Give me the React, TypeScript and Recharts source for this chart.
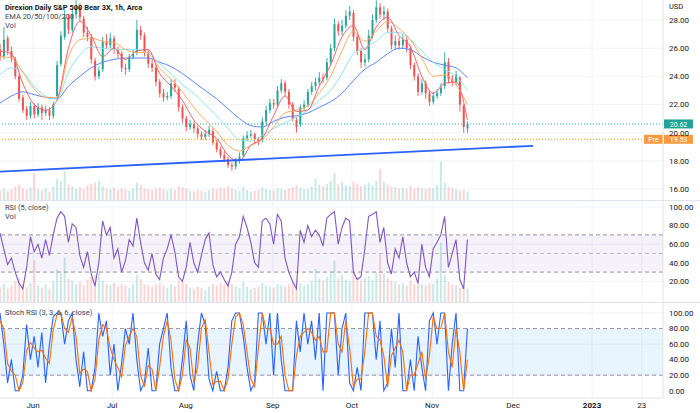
import React from "react";
import {
  Bar,
  CartesianGrid,
  ComposedChart,
  Line,
  ReferenceArea,
  ReferenceLine,
  XAxis,
  YAxis,
} from "recharts";

// one bar per trading day, x measured in trading days
const opens = [
  25.9, 25.4, 26.7, 25.8, 25.2, 24.0, 22.5, 21.7, 21.2, 21.9,
  21.3, 21.8, 21.4, 21.6, 21.2, 22.6, 24.9, 26.8, 28.2, 27.3,
  28.4, 28.9, 28.1, 27.1, 26.8, 25.1, 24.0, 24.5, 26.5, 26.2,
  26.7, 25.9, 25.6, 24.6, 24.5, 25.4, 25.7, 27.3, 26.9, 25.7,
  24.9, 24.6, 23.6, 22.8, 22.5, 22.6, 23.5, 23.1, 21.8, 21.0,
  20.4, 20.6, 20.3, 19.9, 19.7, 19.9, 20.1, 19.3, 18.8, 18.4,
  18.1, 17.7, 17.6, 18.0, 18.4, 19.6, 19.8, 19.9, 19.5, 19.5,
  20.8, 21.6, 22.1, 22.0, 23.0, 23.5, 22.9, 22.0, 20.9, 20.6,
  21.8, 22.0, 22.9, 23.3, 23.6, 23.9, 23.9, 25.0, 26.0, 27.7,
  27.2, 27.6, 28.3, 28.5, 26.8, 25.8, 25.0, 25.2, 26.9, 28.0,
  28.9, 28.4, 28.6, 27.4, 26.2, 26.5, 26.2, 26.6, 26.0, 24.8,
  24.0, 22.9, 23.5, 22.8, 22.2, 22.6, 22.8, 23.3, 25.0, 23.8,
  23.6, 23.9, 21.9, 20.3,
];
const highs = [
  26.3, 27.5, 26.9, 26.1, 25.4, 24.2, 22.7, 21.9, 22.2, 22.1,
  22.1, 22.0, 21.9, 21.8, 22.2, 25.1, 27.2, 28.7, 28.4, 28.8,
  29.4, 29.2, 28.3, 27.5, 27.0, 25.3, 24.7, 26.8, 27.0, 27.1,
  26.9, 26.1, 25.8, 24.9, 25.6, 25.9, 28.0, 27.6, 27.1, 25.9,
  25.2, 24.8, 23.8, 23.1, 22.9, 23.8, 23.8, 23.3, 22.0, 21.2,
  20.9, 20.8, 20.5, 20.1, 20.2, 20.5, 20.3, 19.5, 19.0, 18.7,
  18.3, 17.9, 18.2, 18.6, 19.8, 20.1, 20.2, 20.0, 19.7, 21.1,
  21.9, 22.4, 22.4, 23.3, 23.8, 23.7, 23.1, 22.2, 21.1, 22.0,
  22.3, 23.1, 23.6, 23.9, 24.3, 24.2, 25.3, 26.3, 28.1, 27.9,
  28.0, 28.7, 29.0, 28.7, 27.0, 26.0, 25.6, 27.3, 28.4, 29.4,
  29.2, 29.0, 28.8, 27.6, 26.9, 26.8, 27.0, 26.9, 26.2, 25.0,
  24.2, 23.8, 23.7, 23.0, 22.9, 23.1, 23.5, 25.7, 25.3, 24.1,
  24.4, 24.0, 22.0, 20.8,
];
const lows = [
  25.1, 25.2, 25.5, 25.0, 23.8, 22.2, 21.4, 20.9, 21.0, 21.0,
  21.1, 20.9, 21.2, 20.9, 21.0, 22.4, 24.7, 26.6, 27.0, 27.1,
  28.1, 27.9, 26.8, 26.5, 24.9, 23.7, 23.8, 24.3, 25.9, 26.0,
  25.6, 25.3, 24.3, 24.1, 24.3, 25.2, 25.5, 26.6, 25.4, 24.6,
  24.3, 23.3, 22.5, 22.2, 22.3, 22.4, 22.9, 21.5, 20.7, 20.1,
  20.2, 20.0, 19.6, 19.5, 19.5, 19.7, 19.1, 18.6, 18.2, 17.9,
  17.5, 17.3, 17.4, 17.8, 18.2, 19.4, 19.6, 19.2, 19.1, 19.3,
  20.6, 21.4, 21.7, 21.8, 22.8, 22.6, 21.7, 20.8, 20.0, 20.4,
  21.6, 21.8, 22.7, 23.0, 23.4, 23.5, 23.7, 24.8, 25.8, 26.9,
  26.9, 27.4, 28.0, 26.5, 25.5, 24.6, 24.7, 25.0, 26.7, 27.8,
  28.1, 28.0, 27.1, 25.9, 25.9, 25.9, 26.0, 25.7, 24.5, 23.7,
  22.6, 22.7, 22.4, 21.9, 22.0, 22.4, 22.6, 23.1, 23.5, 23.3,
  23.4, 21.5, 20.0, 20.0,
];
const closes = [
  25.4, 26.6, 25.8, 25.3, 24.0, 22.4, 21.6, 21.2, 21.9, 21.3,
  21.8, 21.4, 21.6, 21.2, 22.0, 24.8, 26.9, 28.2, 27.3, 28.4,
  28.9, 28.2, 27.1, 26.8, 25.2, 24.0, 24.4, 26.5, 26.2, 26.7,
  25.9, 25.6, 24.6, 24.5, 25.4, 25.6, 27.3, 26.9, 25.7, 24.9,
  24.6, 23.6, 22.8, 22.5, 22.6, 23.5, 23.2, 21.8, 21.0, 20.4,
  20.6, 20.3, 19.9, 19.7, 19.9, 20.2, 19.3, 18.8, 18.4, 18.1,
  17.7, 17.6, 18.0, 18.3, 19.6, 19.8, 19.9, 19.5, 19.4, 20.8,
  21.6, 22.1, 22.0, 23.0, 23.5, 22.9, 22.0, 21.0, 20.4, 21.8,
  22.0, 22.9, 23.3, 23.6, 23.9, 23.8, 25.0, 26.0, 27.7, 27.2,
  27.6, 28.3, 28.6, 26.8, 25.8, 25.0, 25.2, 26.9, 28.0, 28.9,
  28.4, 28.6, 27.4, 26.2, 26.5, 26.2, 26.6, 26.0, 24.8, 24.0,
  22.9, 23.5, 22.8, 22.2, 22.6, 22.8, 23.2, 25.0, 23.8, 23.6,
  24.1, 22.0, 20.4, 20.62,
];
const volume = [
  25, 30, 22, 28, 35, 40, 30, 26, 32, 70,
  28, 24, 30, 22, 35, 55, 48, 75, 40, 36,
  30, 34, 28, 38, 42, 45, 50, 36, 30, 28,
  32, 26, 30, 28, 24, 30, 45, 38, 30, 28,
  26, 30, 32, 28, 24, 30, 26, 36, 34, 30,
  24, 22, 26, 24, 20, 26, 30, 28, 32, 30,
  36, 30, 26, 24, 34, 26, 22, 24, 26, 32,
  28, 26, 24, 30, 28, 26, 30, 34, 38, 32,
  28, 30, 36, 55, 40, 36, 42, 50, 70, 40,
  46, 38, 36, 48, 42, 36, 40, 44, 38, 50,
  80, 48, 40, 36, 34, 30, 32, 28, 36, 30,
  34, 30, 28, 32, 30, 40, 100, 45, 34, 30,
  28, 24, 26, 22,
];
const rsi = [
  72, 55, 38, 45, 30, 18, 12, 35, 68, 52,
  60, 45, 65, 48, 70, 88, 95, 90, 62, 82,
  78, 48, 35, 52, 28, 15, 40, 85, 70, 78,
  45, 55, 30, 42, 65, 58, 88, 62, 40, 32,
  50, 28, 22, 45, 55, 70, 52, 25, 20, 35,
  62, 40, 30, 48, 65, 72, 38, 25, 30, 22,
  15, 30, 60, 68, 90, 78, 62, 40, 35, 85,
  88, 82, 60, 92, 85, 45, 30, 20, 12, 75,
  62, 80, 68, 75, 70, 58, 88, 92, 95, 60,
  78, 88, 85, 30, 22, 25, 55, 90, 92, 95,
  62, 78, 40, 28, 55, 45, 68, 40, 25, 30,
  18, 60, 35, 25, 55, 62, 70, 90, 35, 50,
  65, 22, 12, 65,
];
const stochK = [
  100, 60, 10, 40, 0, 0, 20, 85, 40, 70,
  30, 75, 10, 60, 95, 100, 100, 60, 90, 100,
  40, 5, 50, 0, 0, 30, 100, 70, 90, 20,
  60, 0, 35, 80, 60, 100, 40, 0, 10, 55,
  0, 0, 60, 80, 100, 30, 0, 0, 40, 90,
  20, 0, 60, 100, 85, 15, 0, 25, 0, 0,
  30, 90, 100, 100, 70, 30, 0, 10, 100, 100,
  60, 100, 20, 100, 40, 0, 0, 0, 90, 50,
  100, 60, 90, 40, 100, 0, 100, 100, 100, 20,
  80, 100, 10, 0, 30, 0, 100, 100, 100, 40,
  90, 0, 10, 80, 30, 100, 0, 0, 40, 0,
  70, 30, 0, 90, 100, 60, 100, 100, 0, 60,
  100, 0, 0, 80,
];
const stochD = [
  90, 80, 35, 25, 20, 0, 10, 52, 62, 55,
  50, 52, 42, 35, 78, 98, 100, 80, 75, 95,
  70, 22, 28, 25, 0, 15, 65, 85, 80, 55,
  40, 30, 18, 58, 70, 80, 70, 20, 5, 32,
  28, 0, 30, 70, 90, 65, 15, 0, 20, 65,
  55, 10, 30, 80, 92, 50, 8, 12, 12, 0,
  15, 60, 95, 100, 85, 50, 15, 5, 55, 100,
  80, 80, 60, 60, 70, 20, 0, 0, 45, 70,
  75, 80, 75, 65, 70, 50, 50, 100, 100, 60,
  50, 90, 55, 5, 15, 15, 50, 100, 100, 70,
  65, 45, 5, 45, 55, 65, 50, 0, 20, 20,
  35, 50, 15, 45, 95, 80, 80, 100, 50, 30,
  80, 50, 0, 40,
];

// EMAs read every 3rd day
const emaDays = Array.from({ length: 42 }, (_, i) => i * 3);
const ema20 = [
  25.8, 25.6, 23.5, 22.0, 21.6, 22.3, 26.0, 27.9, 26.9, 25.4,
  26.0, 25.2, 25.8, 25.9, 24.2, 23.3, 22.3, 20.9, 20.1, 19.6,
  18.4, 18.0, 19.1, 19.6, 21.2, 22.6, 21.5, 21.6, 23.3, 24.8,
  26.8, 27.6, 25.9, 27.5, 28.2, 26.9, 26.1, 24.0, 22.8, 23.5,
  23.6, 20.9,
];
const ema50 = [
  25.4, 25.3, 24.3, 23.1, 22.5, 22.5, 25.4, 26.6, 26.7, 26.5,
  26.4, 25.9, 25.7, 25.7, 24.6, 23.8, 22.9, 21.8, 20.9, 20.1,
  19.1, 18.7, 19.1, 19.5, 20.4, 21.4, 21.6, 21.9, 22.8, 24.0,
  25.8, 27.2, 26.5, 27.2, 27.9, 27.4, 26.6, 25.3, 24.0, 24.1,
  23.4, 22.0,
];
const ema100 = [
  24.1, 24.6, 24.3, 23.3, 22.6, 22.4, 24.3, 25.5, 26.1, 26.0,
  25.9, 25.9, 25.9, 25.6, 24.9, 24.2, 23.4, 22.8, 22.0, 21.2,
  20.3, 19.5, 19.4, 19.8, 20.3, 20.7, 21.1, 21.6, 22.3, 23.0,
  24.2, 25.6, 26.0, 26.5, 27.1, 27.1, 26.6, 25.8, 25.0, 24.5,
  24.0, 23.0,
];
const ema200 = [
  22.1, 22.6, 22.9, 22.7, 22.5, 22.4, 23.3, 24.0, 24.6, 25.0,
  25.2, 25.3, 25.3, 25.3, 25.0, 24.7, 24.2, 23.6, 23.0, 22.4,
  21.7, 21.0, 20.5, 20.4, 20.8, 21.1, 21.2, 21.4, 21.8, 22.2,
  22.8, 23.7, 24.5, 25.0, 25.6, 26.0, 25.9, 25.4, 25.0, 24.8,
  24.6, 23.9,
];

const trendLine = [
  { d: 0, p: 17.23 },
  { d: 140.3, p: 19.07 },
];
const lastPrice = 20.62;
const prePrice = 19.53;

const timeTicks = [8.7, 29.5, 48.9, 71.8, 92.6, 113.7, 135, 155.8, 168.9];
const timeLabels = ["Jun", "Jul", "Aug", "Sep", "Oct", "Nov", "Dec", "2023", "23"];
const priceTicks = [16, 18, 20, 22, 24, 26, 28];
const oscTicks = [0, 20, 40, 60, 80, 100];

const X_DOMAIN: [number, number] = [0, 174.47];
const UP = "#26a69a";
const DOWN = "#ef5350";
const GRID = "#f0f3fa";
const BORDER = "#e0e3eb";
const TEXT = "#131722";
const FONT = "Roboto, sans-serif";

const rows = opens.map((o, i) => ({
  d: i,
  o,
  h: highs[i],
  l: lows[i],
  c: closes[i],
  vol: volume[i],
  rsi: rsi[i],
  k: stochK[i],
  sd: stochD[i],
}));
const emaRows = emaDays.map((d, j) => ({
  d,
  e20: ema20[j],
  e50: ema50[j],
  e100: ema100[j],
  e200: ema200[j],
}));

const Candle = (props: any) => {
  const { x, y, width, height, payload } = props;
  if (x == null || y == null) return null;
  const top = Math.min(y, y + height);
  const bot = Math.max(y, y + height);
  const { o, h, l, c } = payload;
  const span = h - l || 1;
  const py = (v: number) => top + ((h - v) / span) * (bot - top);
  const color = c >= o ? UP : DOWN;
  const cx = x + width / 2;
  const bt = py(Math.max(o, c));
  const bb = py(Math.min(o, c));
  return (
    <g>
      <line x1={cx} x2={cx} y1={top} y2={bot} stroke={color} strokeWidth={0.9} />
      <rect x={x} y={bt} width={width} height={Math.max(1, bb - bt)} fill={color} />
    </g>
  );
};

const VolBar = (props: any) => {
  const { x, y, width, height, payload } = props;
  if (x == null || y == null) return null;
  const color = payload.c >= payload.o ? UP : DOWN;
  return (
    <rect
      x={x}
      y={Math.min(y, y + height)}
      width={width}
      height={Math.abs(height)}
      fill={color}
      fillOpacity={0.25}
    />
  );
};

const priceBox = (text: string, color: string, pre?: boolean) => (props: any) => {
  const { viewBox } = props;
  const right = viewBox.x + viewBox.width;
  const cy = viewBox.y;
  return (
    <g>
      {pre && (
        <g>
          <rect x={right - 19} y={cy - 4.5} width={19} height={9} fill={color} />
          <text x={right - 9.5} y={cy + 2.7} textAnchor="middle" fontSize={7} fill="#fff" fontFamily={FONT}>
            Pre
          </text>
        </g>
      )}
      <rect x={right + 1} y={cy - 4.5} width={29} height={9} fill={color} />
      <text x={right + 15.5} y={cy + 2.7} textAnchor="middle" fontSize={7} fill="#fff" fontFamily={FONT}>
        {text}
      </text>
    </g>
  );
};

const TimeTick = (props: any) => {
  const { x, y, payload } = props;
  const label = timeLabels[timeTicks.indexOf(payload.value)];
  return (
    <text
      x={x}
      y={y + 8}
      textAnchor="middle"
      fontSize={8}
      fontFamily={FONT}
      fontWeight={label === "2023" ? 700 : 400}
      fill={TEXT}
    >
      {label}
    </text>
  );
};

const axisTick = { fontSize: 8, fill: TEXT, fontFamily: FONT };
const margin = { top: 0, right: 0, bottom: 0, left: 0 };

const Label = ({ top, children, bold }: any) => (
  <div
    style={{
      position: "absolute",
      left: 5,
      top,
      fontSize: 7.5,
      lineHeight: "9px",
      fontWeight: bold ? 700 : 400,
      color: bold ? TEXT : "#434651",
      fontFamily: FONT,
      whiteSpace: "nowrap",
    }}
  >
    {children}
  </div>
);

const emaLine = (key: string, color: string) => (
  <Line
    data={emaRows}
    dataKey={key}
    type="monotone"
    stroke={color}
    strokeWidth={1}
    dot={false}
    activeDot={false}
    isAnimationActive={false}
  />
);

export default function App() {
  return (
    <div style={{ position: "relative", width: 700, height: 413, background: "#fff", overflow: "hidden" }}>
      <style>{`body{margin:0}`}</style>

      {/* price pane */}
      <div style={{ position: "absolute", left: 0, top: 0 }}>
        <ComposedChart width={700} height={200} data={rows} margin={margin}>
          <CartesianGrid stroke={GRID} horizontalValues={priceTicks} verticalValues={timeTicks} />
          <XAxis dataKey="d" type="number" domain={X_DOMAIN} hide allowDataOverflow />
          <XAxis xAxisId="vx" dataKey="d" type="number" domain={X_DOMAIN} hide allowDataOverflow />
          <YAxis
            orientation="right"
            width={37}
            type="number"
            domain={[15.22, 29.42]}
            ticks={priceTicks}
            allowDataOverflow
            tickFormatter={(v: number) => v.toFixed(2)}
            tick={axisTick}
            tickLine={false}
            tickSize={0}
            tickMargin={6}
            axisLine={{ stroke: BORDER }}
          />
          <YAxis yAxisId="vol" hide domain={[0, 520]} />
          <Bar
            xAxisId="vx"
            yAxisId="vol"
            dataKey="vol"
            barSize={2}
            shape={VolBar}
            isAnimationActive={false}
          />
          <ReferenceLine y={lastPrice} stroke={UP} strokeDasharray="1 2" label={priceBox("20.62", "#22a294")} />
          <ReferenceLine y={prePrice} stroke="#ff9800" strokeDasharray="1 2" label={priceBox("19.53", "#f99b3d", true)} />
          <Bar
            dataKey={(r: any) => [r.l, r.h]}
            barSize={2}
            shape={Candle}
            isAnimationActive={false}
          />
          {emaLine("e200", "#5d86f5")}
          {emaLine("e100", "#8ce6ee")}
          {emaLine("e50", "#ffab66")}
          {emaLine("e20", "#f46468")}
          <ReferenceLine
            segment={[
              { x: trendLine[0].d, y: trendLine[0].p },
              { x: trendLine[1].d, y: trendLine[1].p },
            ]}
            stroke="#2962ff"
            strokeWidth={1.8}
          />
        </ComposedChart>
      </div>

      {/* RSI pane */}
      <div style={{ position: "absolute", left: 0, top: 201 }}>
        <ComposedChart width={700} height={101} data={rows} margin={margin}>
          <CartesianGrid stroke={GRID} horizontalValues={oscTicks} verticalValues={timeTicks} />
          <XAxis dataKey="d" type="number" domain={X_DOMAIN} hide allowDataOverflow />
          <YAxis
            orientation="right"
            width={37}
            type="number"
            domain={[-2.15, 106.45]}
            ticks={oscTicks}
            allowDataOverflow
            tickFormatter={(v: number) => v.toFixed(2)}
            tick={axisTick}
            tickLine={false}
            tickSize={0}
            tickMargin={6}
            axisLine={{ stroke: BORDER }}
          />
          <YAxis yAxisId="vol" hide domain={[0, 170]} />
          <ReferenceArea y1={30} y2={70} fill="#7e57c2" fillOpacity={0.08} stroke="none" />
          <Bar yAxisId="vol" dataKey="vol" barSize={2} shape={VolBar} isAnimationActive={false} />
          <ReferenceLine y={70} stroke="#9598a1" strokeDasharray="4 3" />
          <ReferenceLine y={50} stroke="#9598a1" strokeDasharray="4 3" strokeOpacity={0.6} />
          <ReferenceLine y={30} stroke="#9598a1" strokeDasharray="4 3" />
          <Line dataKey="rsi" type="linear" stroke="#7e57c2" strokeWidth={1.1} dot={false} activeDot={false} isAnimationActive={false} />
        </ComposedChart>
      </div>

      {/* Stoch RSI pane + time axis */}
      <div style={{ position: "absolute", left: 0, top: 303 }}>
        <ComposedChart width={700} height={110} data={rows} margin={margin}>
          <CartesianGrid stroke={GRID} horizontalValues={oscTicks} verticalValues={timeTicks} />
          <XAxis
            dataKey="d"
            type="number"
            domain={X_DOMAIN}
            allowDataOverflow
            ticks={timeTicks}
            height={15}
            tick={TimeTick}
            tickLine={false}
            tickSize={0}
            axisLine={{ stroke: BORDER }}
          />
          <YAxis
            orientation="right"
            width={37}
            type="number"
            domain={[-9.4, 112.9]}
            ticks={oscTicks}
            allowDataOverflow
            tickFormatter={(v: number) => v.toFixed(2)}
            tick={axisTick}
            tickLine={false}
            tickSize={0}
            tickMargin={6}
            axisLine={{ stroke: BORDER }}
          />
          <ReferenceArea y1={20} y2={80} fill="#2196f3" fillOpacity={0.1} stroke="none" />
          <ReferenceLine y={80} stroke="#9598a1" strokeDasharray="4 3" />
          <ReferenceLine y={20} stroke="#9598a1" strokeDasharray="4 3" />
          <Line dataKey="k" type="linear" stroke="#2962ff" strokeWidth={1.1} dot={false} activeDot={false} isAnimationActive={false} />
          <Line dataKey="sd" type="linear" stroke="#ff6d00" strokeWidth={1.1} dot={false} activeDot={false} isAnimationActive={false} />
        </ComposedChart>
      </div>

      {/* pane separators */}
      <div style={{ position: "absolute", left: 0, top: 200, width: 700, height: 1, background: BORDER }} />
      <div style={{ position: "absolute", left: 0, top: 302, width: 700, height: 1, background: BORDER }} />

      <div style={{ position: "absolute", left: 669, top: 2, fontSize: 7.5, fontFamily: FONT, color: TEXT }}>USD</div>

      <Label top={3} bold>
        Direxion Daily S&amp;P 500 Bear 3X, 1h, Arca
      </Label>
      <Label top={12}>EMA 20/50/100/200</Label>
      <Label top={21}>Vol</Label>
      <Label top={203}>RSI (5, close)</Label>
      <Label top={212}>Vol</Label>
      <Label top={308}>Stoch RSI (3, 3, 6, 6, close)</Label>
    </div>
  );
}
